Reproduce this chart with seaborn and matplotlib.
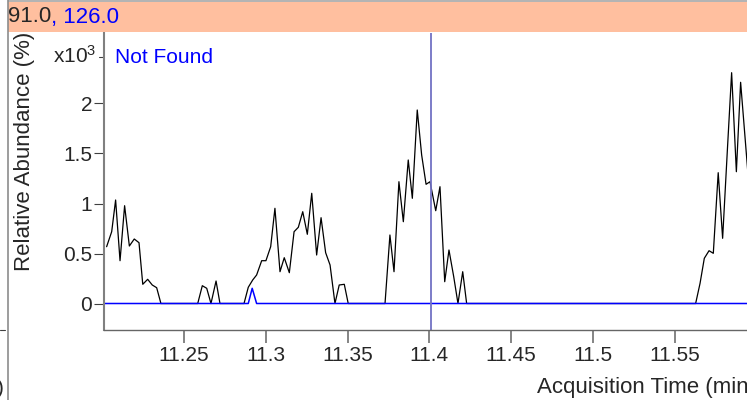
import matplotlib
matplotlib.use('Agg')
import matplotlib.pyplot as plt
from matplotlib.patches import Rectangle
from matplotlib.lines import Line2D
import pandas as pd
import seaborn as sns

# extracted ion chromatogram, abundance in units of 10^3
black_time = [11.2027, 11.2058, 11.2082, 11.2109, 11.2137, 11.2166, 11.2196, 11.2225,
              11.2248, 11.2278, 11.2306, 11.2333, 11.2359,
              11.2584, 11.2612, 11.2639, 11.2665, 11.2696, 11.2720,
              11.2867, 11.2893, 11.2920, 11.2944, 11.2975, 11.3001, 11.3030, 11.3056,
              11.3087, 11.3113, 11.3144, 11.3173, 11.3199, 11.3226, 11.3254, 11.3281,
              11.3311, 11.3338, 11.3366, 11.3393, 11.3423, 11.3449, 11.3480, 11.3504,
              11.3729, 11.3759, 11.3784, 11.3814, 11.3841, 11.3871, 11.3896, 11.3926,
              11.3953, 11.3980, 11.4004, 11.4039, 11.4065, 11.4094, 11.4120, 11.4149,
              11.4175, 11.4204, 11.4228,
              11.5628, 11.5655, 11.5681, 11.5710, 11.5736, 11.5766, 11.5793, 11.5822,
              11.5848, 11.5877, 11.5903, 11.5960]
black_abund = [0.568, 0.718, 1.035, 0.428, 0.978, 0.575, 0.645, 0.608,
               0.192, 0.242, 0.185, 0.158, 0.0,
               0.0, 0.178, 0.152, 0.0, 0.225, 0.0,
               0.0, 0.162, 0.235, 0.285, 0.428, 0.428, 0.568, 0.952,
               0.318, 0.458, 0.308, 0.718, 0.762, 0.918, 0.692, 1.102,
               0.485, 0.858, 0.508, 0.385, 0.0, 0.185, 0.192, 0.0,
               0.0, 0.685, 0.318, 1.218, 0.818, 1.435, 1.052, 1.935,
               1.485, 1.192, 1.218, 0.928, 1.168, 0.218, 0.535, 0.268,
               0.0, 0.318, 0.0,
               0.0, 0.202, 0.452, 0.528, 0.502, 1.308, 0.652, 1.535,
               2.308, 1.318, 2.212, 1.05]

blue_time = [11.2000, 11.2893, 11.2917, 11.2944, 11.6000]
blue_abund = [0.0, 0.0, 0.152, 0.0, 0.0]

x_ticks = [11.25, 11.3, 11.35, 11.4, 11.45, 11.5, 11.55]
y_ticks = [0, 0.5, 1, 1.5, 2]
y_tick_labels = ['0', '0.5', '1', '1.5', '2']
cursor_time = 11.4013

sns.set_style('white')
plt.rcParams['font.family'] = ['Liberation Sans', 'DejaVu Sans']
plt.rcParams['mathtext.fontset'] = 'custom'
plt.rcParams['mathtext.rm'] = 'Liberation Sans'
plt.rcParams['mathtext.default'] = 'regular'
FS = 15
LFS = 16

W, H = 747, 400
fig = plt.figure(figsize=(W / 100, H / 100), dpi=100)
ax = fig.add_axes([104 / W, 1 - 330 / H, (W - 104) / W, (330 - 33) / H])

black = pd.DataFrame({'time': black_time, 'abund': black_abund})
blue = pd.DataFrame({'time': blue_time, 'abund': blue_abund})
sns.lineplot(data=black, x='time', y='abund', color='black', lw=0.9,
             estimator=None, sort=False, ax=ax)
sns.lineplot(data=blue, x='time', y='abund', color='#0000ff', lw=1.1,
             estimator=None, sort=False, ax=ax)
ax.axvline(cursor_time, color='#7272c4', lw=1.3)

ax.set_xlim(11.2011, 11.5942)
ax.set_ylim(-0.265, 2.705)
ax.set_xticks(x_ticks)
ax.set_xticklabels([f'{t:g}' for t in x_ticks], fontsize=FS)
ax.set_yticks(y_ticks)
ax.set_yticklabels(y_tick_labels, fontsize=FS)
ax.set_xlabel('')
ax.set_ylabel('')
ax.tick_params(axis='x', direction='out', length=9.5, width=1.2, color='#707070', pad=2, bottom=True)
ax.tick_params(axis='y', direction='out', length=7, width=0.8, color='#404040', pad=1.5, left=True)
for s in ['top', 'right']:
    ax.spines[s].set_visible(False)
ax.spines['left'].set_color('#808080')
ax.spines['left'].set_linewidth(1.5)
ax.spines['bottom'].set_color('#666666')
ax.spines['bottom'].set_linewidth(1.0)

# exponent marker at top of y axis
ax.plot([-0.008, 0], [2.465, 2.465], color='#404040', lw=0.8,
        transform=ax.get_yaxis_transform(), clip_on=False)
fig.text(96 / W, 1 - 63 / H, r'x10$^3$', fontsize=FS, ha='right', va='baseline')
fig.text(115 / W, 1 - 63 / H, 'Not Found', fontsize=FS, color='#0000ff', va='baseline')

fig.text(25 / W, 1 - 151 / H, 'Relative Abundance (%)', fontsize=LFS, rotation=90,
         ha='center', va='center')
fig.text(537 / W, 1 - 388 / H, 'Acquisition Time (min)', fontsize=LFS, ha='left', va='center')

# header band
fig.patches.append(Rectangle((8 / W, 1 - 32 / H), (W - 8) / W, 30 / H,
                             transform=fig.transFigure, facecolor='#ffbf9f',
                             edgecolor='none', zorder=0))
fig.patches.append(Rectangle((8 / W, 1 - 2 / H), (W - 8) / W, 2 / H,
                             transform=fig.transFigure, facecolor='#b4b4b4',
                             edgecolor='none', zorder=0))
t1 = fig.text(8 / W, 1 - 17 / H, '91.0', fontsize=LFS, va='center')
renderer = fig.canvas.get_renderer()
x_end = t1.get_window_extent(renderer).x1
fig.text(x_end / W, 1 - 17 / H, ', 126.0', fontsize=LFS, color='#0000ff', va='center')

# edge of the neighbouring panel
fig.lines.append(Line2D([7.5 / W, 7.5 / W], [0, 1], transform=fig.transFigure,
                        color='#8c8c8c', lw=1.2))
fig.lines.append(Line2D([0, 5 / W], [1 - 330 / H, 1 - 330 / H], transform=fig.transFigure,
                        color='#404040', lw=0.8))
fig.text(-3 / W, 1 - 389 / H, ')', fontsize=FS, va='center')

fig.savefig('out.png', dpi=100)
